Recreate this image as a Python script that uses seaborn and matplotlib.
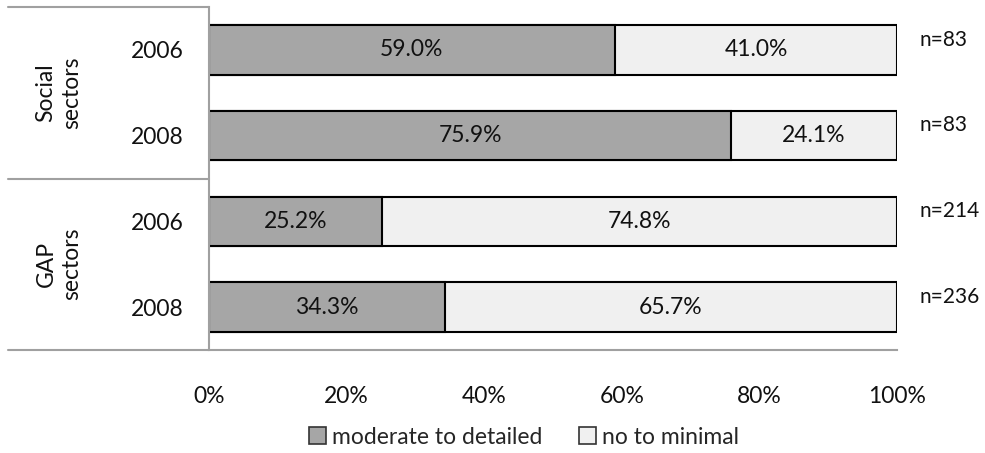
import matplotlib.pyplot as plt
import seaborn as sns
import pandas as pd
from matplotlib.patches import Patch
from matplotlib.lines import Line2D
from matplotlib.transforms import blended_transform_factory

# data
groups = ['Social\nsectors', 'Social\nsectors', 'GAP\nsectors', 'GAP\nsectors']
years = ['2006', '2008', '2006', '2008']
moderate = [59.0, 75.9, 25.2, 34.3]
minimal = [41.0, 24.1, 74.8, 65.7]
counts = [83, 83, 214, 236]
series_names = ['moderate to detailed', 'no to minimal']

dark = '#a6a6a6'
light = '#f0f0f0'
line_gray = '#a0a0a0'

sns.set_theme(style='white')
plt.rcParams['font.family'] = ['Lato', 'DejaVu Sans']
fs = 16.5

df = pd.DataFrame({
    'row': [g + ' ' + y for g, y in zip(groups, years)],
    'moderate': moderate,
    'total': [a + b for a, b in zip(moderate, minimal)],
})

fig = plt.figure(figsize=(9.85, 4.53), dpi=100)
ax = fig.add_axes([209 / 985, 1 - 350 / 453, 688 / 985, 343 / 453])

sns.barplot(data=df, y='row', x='total', orient='h', color=light, saturation=1,
            edgecolor='black', linewidth=1.5, width=0.58, ax=ax)
sns.barplot(data=df, y='row', x='moderate', orient='h', color=dark, saturation=1,
            edgecolor='black', linewidth=1.5, width=0.58, ax=ax)

for i, (m, n, c) in enumerate(zip(moderate, minimal, counts)):
    ax.text(m / 2, i, f'{m:.1f}%', ha='center', va='center', fontsize=fs, color='#111111')
    ax.text(m + n / 2, i, f'{n:.1f}%', ha='center', va='center', fontsize=fs, color='#111111')
    ax.text(103.3, i - 0.12, f'n={c}', ha='left', va='center', fontsize=fs - 1.5,
            color='#111111', clip_on=False)

ax.set_xlim(0, 100)
ax.set_xticks([0, 20, 40, 60, 80, 100])
ax.set_xticklabels([f'{t}%' for t in range(0, 101, 20)], fontsize=fs)
ax.set_yticks(range(len(years)))
ax.set_yticklabels(years, fontsize=fs)
ax.set_xlabel('')
ax.set_ylabel('')
ax.tick_params(axis='x', length=0, pad=26, colors='#111111')
ax.tick_params(axis='y', length=0, pad=18, colors='#111111')

for side in ['top', 'right']:
    ax.spines[side].set_visible(False)
for side in ['left', 'bottom']:
    ax.spines[side].set_color(line_gray)
    ax.spines[side].set_linewidth(1.5)

# category table lines on the left
H = 453.0
for y, x0, x1 in [(7, 8, 209), (179, 8, 209), (350, 8, 209)]:
    fig.add_artist(Line2D([x0 / 985, x1 / 985], [1 - y / H, 1 - y / H],
                          color=line_gray, lw=1.5))

# group labels
tr = blended_transform_factory(fig.transFigure, ax.transData)
for k, g in enumerate(['Social\nsectors', 'GAP\nsectors']):
    ax.text(59 / 985, 2 * k + 0.5, g, rotation=90, ha='center', va='center',
            fontsize=fs, transform=tr, linespacing=1.3, color='#111111')

handles = [Patch(facecolor=dark, edgecolor='#333333', lw=1.2, label=series_names[0]),
           Patch(facecolor=light, edgecolor='#333333', lw=1.2, label=series_names[1])]
fig.legend(handles=handles, loc='center', bbox_to_anchor=(0.532, 1 - 437 / H), ncol=2,
           frameon=False, fontsize=fs, handlelength=0.75, handleheight=0.75,
           handletextpad=0.25, columnspacing=1.6)

fig.savefig('out.png', dpi=100)
